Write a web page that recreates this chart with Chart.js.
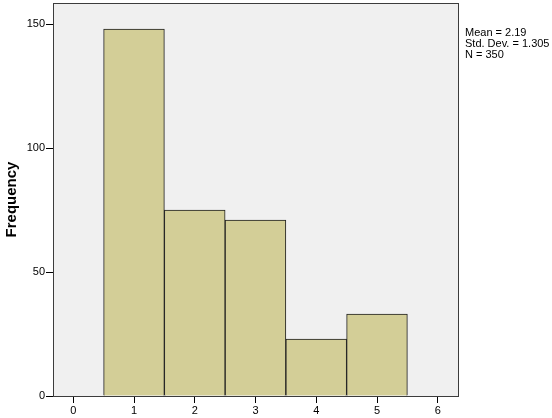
<!DOCTYPE html>
<html>
<head>
<meta charset="utf-8">
<script src="https://cdn.jsdelivr.net/npm/chart.js@4/dist/chart.umd.min.js"></script>
<style>
  html, body { margin: 0; padding: 0; background: #fff; }
  #wrap { width: 552px; height: 418px; position: relative; }
</style>
</head>
<body>
<div id="wrap"><canvas id="hist"></canvas></div>
<script>
// valores del histograma
const categorias = [1, 2, 3, 4, 5];
const frecuencias = [148, 75, 71, 23, 33];
const ticksX = [0, 1, 2, 3, 4, 5, 6];
const ticksY = [0, 50, 100, 150];
const estadisticas = ['Mean = 2.19', 'Std. Dev. = 1.305', 'N = 350'];

const fuente = "'Liberation Sans', Arial, sans-serif";

// fondo gris del area y marco
const marco = {
  id: 'marco',
  beforeDraw(chart) {
    const { ctx, chartArea: a } = chart;
    ctx.save();
    ctx.fillStyle = '#f0f0f0';
    ctx.fillRect(a.left, a.top, a.right - a.left, a.bottom - a.top);
    ctx.restore();
  },
  afterDraw(chart) {
    const { ctx, chartArea: a } = chart;
    ctx.save();
    ctx.strokeStyle = '#3c3c3c';
    ctx.lineWidth = 1;
    ctx.strokeRect(Math.round(a.left) + 0.5, Math.round(a.top) + 0.5,
      Math.round(a.right - a.left), Math.round(a.bottom - a.top));
    // texto de estadisticas
    ctx.fillStyle = '#000';
    ctx.font = '11px ' + fuente;
    ctx.textBaseline = 'top';
    estadisticas.forEach((t, i) => ctx.fillText(t, a.right + 7, 27 + i * 11));
    ctx.restore();
  }
};

const ctx = document.getElementById('hist').getContext('2d');
new Chart(ctx, {
  type: 'bar',
  data: {
    datasets: [{
      data: categorias.map((c, i) => ({ x: c, y: frecuencias[i] })),
      backgroundColor: '#d3ce97',
      borderColor: '#1e1e1e',
      borderWidth: 1,
      barPercentage: 1,
      categoryPercentage: 1
    }]
  },
  options: {
    responsive: true,
    maintainAspectRatio: false,
    animation: false,
    layout: { padding: { top: 3, right: 94, left: 0, bottom: 0 } },
    plugins: { legend: { display: false }, tooltip: { enabled: false } },
    scales: {
      x: {
        type: 'linear',
        offset: false,
        min: -1 / 3,
        max: 6 + 1 / 3,
        afterBuildTicks: s => { s.ticks = ticksX.map(v => ({ value: v })); },
        afterFit: s => { s.height = 22; },
        grid: { offset: false, drawOnChartArea: false, drawTicks: true, tickLength: 7, color: '#000' },
        border: { display: false },
        ticks: { color: '#000', font: { family: fuente, size: 11 }, padding: 1, maxRotation: 0 }
      },
      y: {
        min: 0,
        max: 158.5,
        afterBuildTicks: s => { s.ticks = ticksY.map(v => ({ value: v })); },
        afterFit: s => { s.width = 53; s.paddingTop = 0; },
        grid: { drawOnChartArea: false, drawTicks: true, tickLength: 7, color: '#000' },
        border: { display: false },
        ticks: { color: '#000', font: { family: fuente, size: 11 }, padding: 1 },
        title: {
          display: true,
          text: 'Frequency',
          color: '#000',
          font: { family: fuente, size: 15, weight: 'bold' },
          padding: { top: 3, bottom: 0 }
        }
      }
    }
  },
  plugins: [marco]
});
</script>
</body>
</html>
